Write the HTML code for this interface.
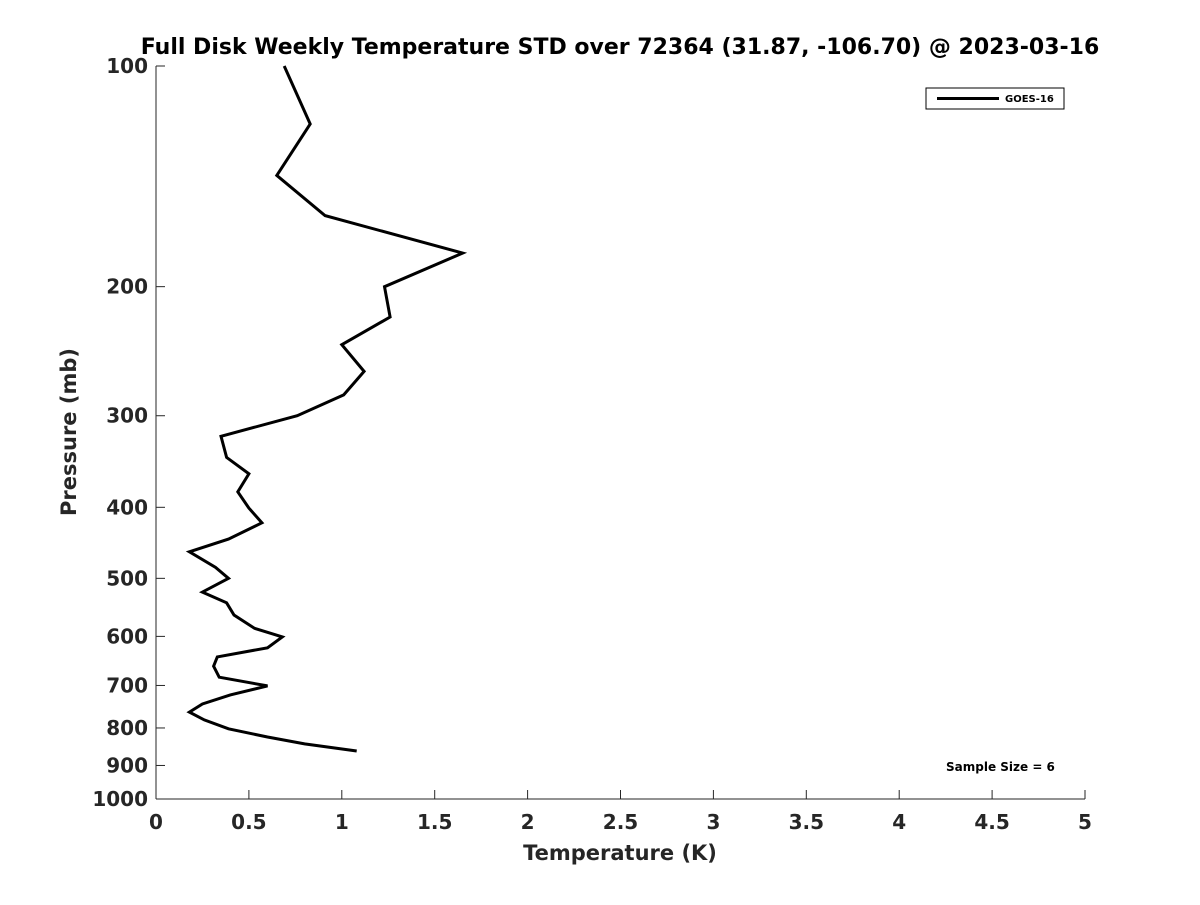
<!DOCTYPE html>
<html><head><meta charset="utf-8"><style>
body{margin:0;background:#fff;font-family:"Liberation Sans",sans-serif;}
svg text{font-family:"DejaVu Sans","Liberation Sans",sans-serif;font-weight:bold;fill:#262626}
</style></head><body>
<svg id="chart" width="1200" height="900" xmlns="http://www.w3.org/2000/svg">
<rect width="1200" height="900" fill="#fff"/>
<text x="620" y="54" text-anchor="middle" font-size="22" style="fill:#000">Full Disk Weekly Temperature STD over 72364 (31.87, -106.70) @ 2023-03-16</text>
<g id="axes"></g>
<text x="620" y="860" text-anchor="middle" font-size="21">Temperature (K)</text>
<text transform="translate(76,432) rotate(-90)" text-anchor="middle" font-size="21">Pressure (mb)</text>
<g>
<rect x="926" y="88" width="138" height="21" fill="#fff" stroke="#000" stroke-width="1"/>
<line x1="937" y1="98.5" x2="999" y2="98.5" stroke="#000" stroke-width="3"/>
<text x="1005" y="102" font-size="10" style="fill:#000">GOES-16</text>
</g>
<text x="946" y="771" font-size="12" style="fill:#000">Sample Size = 6</text>
</svg>
<script>
const temps=[0.69,0.83,0.65,0.91,1.65,1.23,1.26,1.00,1.12,1.01,0.76,0.35,0.38,0.50,0.44,0.50,0.57,0.39,0.18,0.32,0.39,0.25,0.38,0.42,0.53,0.68,0.60,0.33,0.31,0.34,0.60,0.40,0.25,0.18,0.26,0.39,0.60,0.80,1.08];
const pressures=[100,120,141,160,180,200,220,240,261,281,300,320,342,360,381,401,420,442,460,483,500,522,540,561,585,601,622,640,659,682,701,721,742,761,780,802,823,841,860];
const xTicks=[0,0.5,1,1.5,2,2.5,3,3.5,4,4.5,5];
const yTicks=[100,200,300,400,500,600,700,800,900,1000];
const X0=156,X1=1085,Y0=66,Y1=799;
const xs=v=>X0+(v-0)/5*(X1-X0);
const ys=p=>Y0+Math.log10(p/100)*(Y1-Y0);
const NS="http://www.w3.org/2000/svg";
const g=document.getElementById('axes');
function mk(t,a){const e=document.createElementNS(NS,t);for(const k in a)e.setAttribute(k,a[k]);g.appendChild(e);return e;}
const xa=mk('path',{d:`M${X0},${Y1}H${X1}M${X0},${Y1}V${Y0}`,stroke:'#262626','stroke-width':1,fill:'none'});


xTicks.forEach(v=>{
 const x=xs(v);
 const l=mk('line',{x1:x,x2:x,y1:Y1,y2:Y1-9,stroke:'#262626'});
 
 
 const t=mk('text',{x:x,y:Y1+30,'text-anchor':'middle','font-size':20});
 t.textContent=String(v);
 
 
});
yTicks.forEach(p=>{
 const y=ys(p);
 const l=mk('line',{x1:X0,x2:X0+9,y1:y,y2:y,stroke:'#262626'});
 
 
 const t=mk('text',{x:X0-8,y:y+7,'text-anchor':'end','font-size':20});
 t.textContent=String(p);
 
 
});
const d=temps.map((v,i)=>(i?'L':'M')+xs(v).toFixed(1)+','+ys(pressures[i]).toFixed(1)).join('');
const line=mk('path',{d:d,stroke:'#000','stroke-width':3,fill:'none','stroke-linejoin':'miter'});


</script>
</body></html>
